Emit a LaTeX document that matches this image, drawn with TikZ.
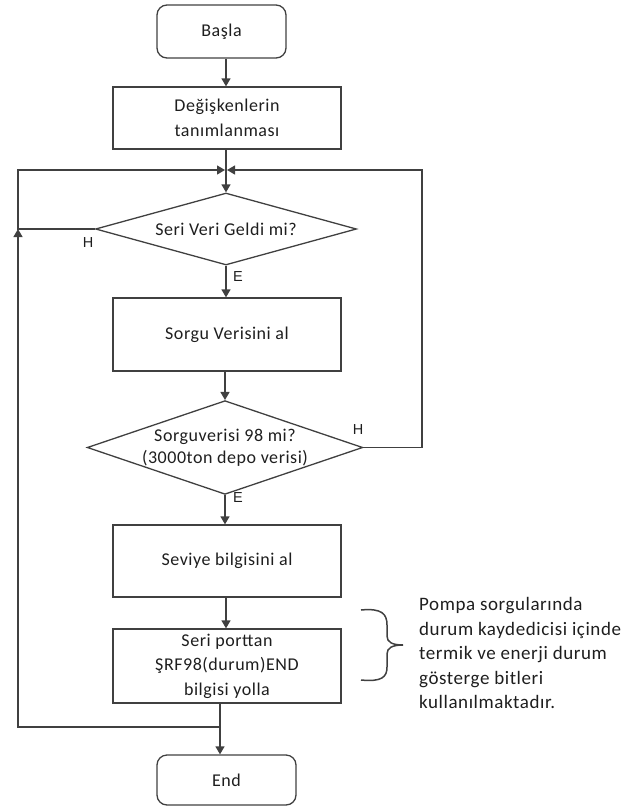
\documentclass[tikz,border=0pt]{standalone}
\usepackage{fontspec}
\setmainfont{Carlito}
\newfontfamily\labfont{Liberation Sans}
\newfontfamily\wide[LetterSpace=3]{Carlito}
\usetikzlibrary{arrows.meta,shapes.geometric,calc}
\definecolor{lc}{HTML}{404040}
\definecolor{tc}{HTML}{1E1E1E}
\begin{document}
\begin{tikzpicture}[x=1pt,y=-1pt,
  line/.style={draw=lc, line width=1.3pt},
  arr/.style={line, -{Triangle[length=8pt,width=9pt]}},
  box/.style={draw=lc, line width=1.3pt, rectangle, minimum width=228pt, inner sep=2pt, align=center, font=\wide\fontsize{18}{24.5}\selectfont, text=tc},
  term/.style={box, rounded corners=10pt},
  dec/.style={draw=lc, line width=1.3pt, diamond, inner sep=0pt, align=center, font=\wide\fontsize{18}{22}\selectfont, text=tc},
  lab/.style={font=\labfont\fontsize{14.5}{16}\selectfont, text=tc, inner sep=0pt},
  note/.style={font=\wide\fontsize{19}{24.5}\selectfont, align=left, anchor=west, inner sep=0pt, text=tc}
]
\useasboundingbox (0,0) rectangle (636,807);
\node[term, minimum width=129pt, minimum height=53pt] (start) at (221.5,31.5) {Başla};
\node[box, minimum height=62pt] (init) at (227,118) {Değişkenlerin\\tanımlanması};
\coordinate (m) at (226,170);
\node[dec, aspect=3.6, minimum width=261pt, minimum height=72pt] (d1) at (226,229) {Seri Veri Geldi mi?};
\node[box, minimum height=73pt] (q) at (227,334.5) {Sorgu Verisini al};
\node[dec, aspect=2.94, minimum width=262pt, minimum height=89pt] (d2) at (225,447.5) {Sorguverisi 98 mi?\\(3000ton depo verisi)};
\node[box, minimum height=72pt] (sev) at (227,561) {Seviye bilgisini al};
\node[box, minimum height=74pt] (send) at (227,666) {Seri porttan\\ŞRF98(durum)END\\bilgisi yolla};
\node[term, minimum width=139pt, minimum height=50pt] (end) at (226.5,780) {End};
\coordinate (lx) at (18,0);
\coordinate (rx) at (422,0);
\coordinate (j) at (220,727);

\draw[arr] (start.south -| m) -- (init.north -| m);
\draw[line] (init.south -| m) -- (m);
\draw[arr] (m) -- (d1.north);
\draw[arr, shorten >=1pt] (d1.west) -- (d1.west -| lx) -- (m -| lx) -- (m);
\draw[arr, shorten >=1pt] (d2.east) -- (d2.east -| rx) -- (m -| rx) -- (m);
\draw[arr] (d1.south) -- (q.north -| d1.south);
\draw[arr] (q.south -| d2.north) -- (d2.north);
\draw[arr] (d2.south) -- (sev.north -| d2.south);
\draw[arr] (sev.south -| m) -- (send.north -| m);
\draw[line] (send.south -| j) -- (j);
\draw[arr] (j) -- (end.north -| j);
\draw[arr] (j) -| (d1.west -| lx);

\node[lab] (h1) at (88,243) {H};
\node[lab] (e1) at (238,277) {E};
\node[lab] (h2) at (358,430) {H};
\node[lab] (e2) at (238,498) {E};

\draw[line, line width=1.5pt] (361,610) .. controls (382,608) and (387,614) .. (387,625) -- (387,636) .. controls (387,642) and (392,645) .. (403,645) .. controls (392,645) and (387,648) .. (387,654) -- (387,667) .. controls (387,677) and (382,682) .. (361,680);

\node[note] (txt) at (419,653) {Pompa sorgularında\\durum kaydedicisi içinde\\termik ve enerji durum\\gösterge bitleri\\kullanılmaktadır.};
\end{tikzpicture}
\end{document}
